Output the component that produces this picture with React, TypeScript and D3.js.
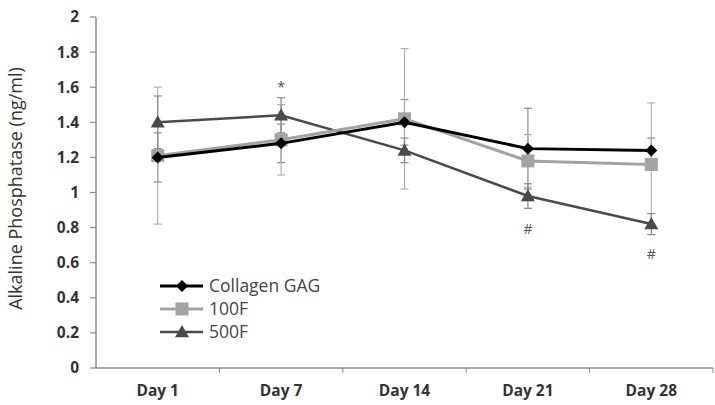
import React, { useEffect } from 'react';
import * as d3 from 'd3';

const days = ['Day 1', 'Day 7', 'Day 14', 'Day 21', 'Day 28'];
const yTicks = [0, 0.2, 0.4, 0.6, 0.8, 1, 1.2, 1.4, 1.6, 1.8, 2];

const collagenGag = [1.2, 1.28, 1.4, 1.25, 1.24];
const collagenGagErr = [0.14, 0.11, 0.13, 0.23, 0.07];
const f100 = [1.21, 1.3, 1.42, 1.18, 1.16];
const f100Err = [0.39, 0.2, 0.4, 0.15, 0.35];
const f500 = [1.4, 1.44, 1.24, 0.98, 0.82];
const f500Err = [0.15, 0.1, 0.07, 0.07, 0.06];

// significance marks: [day index, value position, label]
const marks: [number, number, string][] = [
  [1, 1.6, '*'],
  [3, 0.79, '#'],
  [4, 0.65, '#'],
];

const series = [
  { name: 'Collagen GAG', values: collagenGag, err: collagenGagErr, color: '#000000', errColor: '#8a8a8a', shape: 'diamond', width: 3 },
  { name: '100F', values: f100, err: f100Err, color: '#a3a3a3', errColor: '#b0b0b0', shape: 'square', width: 3 },
  { name: '500F', values: f500, err: f500Err, color: '#4a4a4a', errColor: '#8a8a8a', shape: 'triangle', width: 2.5 },
];

const W = 715;
const H = 405;
const margin = { top: 17, right: 2, bottom: 37, left: 96 };

function Marker({ shape, x, y, color }: { shape: string; x: number; y: number; color: string }) {
  if (shape === 'diamond') {
    const s = 6;
    return <path d={`M${x},${y - s}L${x + s},${y}L${x},${y + s}L${x - s},${y}Z`} fill={color} />;
  }
  if (shape === 'square') {
    const s = 6.5;
    return <rect x={x - s} y={y - s} width={s * 2} height={s * 2} fill={color} />;
  }
  const s = 7;
  return <path d={`M${x},${y - s}L${x + s},${y + s * 0.75}L${x - s},${y + s * 0.75}Z`} fill={color} />;
}

export default function App() {
  useEffect(() => {
    document.body.style.margin = '0';
  }, []);

  const x = d3.scaleBand().domain(days).range([margin.left, W - margin.right]);
  const y = d3.scaleLinear().domain([0, 2]).range([H - margin.bottom, margin.top]);
  const cx = (i: number) => (x(days[i]) as number) + x.bandwidth() / 2;
  const line = d3.line<number>().x((_, i) => cx(i)).y(d => y(d));
  const font = "'Open Sans', 'Liberation Sans', sans-serif";

  return (
    <svg width={W} height={H} style={{ display: 'block', background: '#fff' }} fontFamily={font}>
      {/* y axis */}
      <line x1={margin.left} x2={margin.left} y1={y(2)} y2={y(0)} stroke="#8c8c8c" strokeWidth={1.5} />
      {yTicks.map(t => (
        <g key={t}>
          <line x1={margin.left - 6} x2={margin.left} y1={y(t)} y2={y(t)} stroke="#8c8c8c" strokeWidth={1.2} />
          <text x={margin.left - 17} y={y(t)} dy="0.35em" textAnchor="end" fontSize={15.5} fontWeight="bold" fill="#333">
            {d3.format('~g')(t)}
          </text>
        </g>
      ))}
      <text transform={`translate(22,${(y(0) + y(2)) / 2 - 4}) rotate(-90)`} textAnchor="middle" fontSize={18} fill="#333">
        Alkaline Phosphatase (ng/ml)
      </text>

      {/* x axis */}
      <line x1={margin.left} x2={W - margin.right} y1={y(0)} y2={y(0)} stroke="#8c8c8c" strokeWidth={1.5} />
      {days.map((d, i) => (
        <g key={d}>
          <line x1={(x(d) as number) + x.bandwidth()} x2={(x(d) as number) + x.bandwidth()} y1={y(0)} y2={y(0) + 5} stroke="#8c8c8c" />
          <text x={cx(i)} y={y(0) + 28} textAnchor="middle" fontSize={15.5} fontWeight="bold" fill="#333">{d}</text>
        </g>
      ))}

      {/* error bars */}
      {series.map(s => (
        <g key={s.name + 'err'}>
          {s.values.map((v, i) => (
            <g key={i} stroke={s.errColor} strokeWidth={1.2}>
              <line x1={cx(i)} x2={cx(i)} y1={y(v + s.err[i])} y2={y(v - s.err[i])} />
              <line x1={cx(i) - 4} x2={cx(i) + 4} y1={y(v + s.err[i])} y2={y(v + s.err[i])} />
              <line x1={cx(i) - 4} x2={cx(i) + 4} y1={y(v - s.err[i])} y2={y(v - s.err[i])} />
            </g>
          ))}
        </g>
      ))}

      {/* lines and markers, drawn so Collagen GAG sits on top */}
      {[...series].reverse().map(s => (
        <g key={s.name}>
          <path d={line(s.values) || ''} fill="none" stroke={s.color} strokeWidth={s.width} />
          {s.values.map((v, i) => (
            <Marker key={i} shape={s.shape} x={cx(i)} y={y(v)} color={s.color} />
          ))}
        </g>
      ))}

      {/* significance marks */}
      {marks.map(([i, v, label], k) => (
        <text key={k} x={cx(i)} y={y(v)} dy="0.35em" textAnchor="middle" fontSize={label === '*' ? 15 : 14} fill="#555">
          {label}
        </text>
      ))}

      {/* legend */}
      {series.map((s, i) => (
        <g key={s.name + 'leg'} transform={`translate(160,${286 + i * 23})`}>
          <line x1={0} x2={43} y1={0} y2={0} stroke={s.color} strokeWidth={s.width} />
          <Marker shape={s.shape} x={22} y={0} color={s.color} />
          <text x={49} y={0} dy="0.35em" fontSize={17.5} fill="#444">{s.name}</text>
        </g>
      ))}
    </svg>
  );
}
